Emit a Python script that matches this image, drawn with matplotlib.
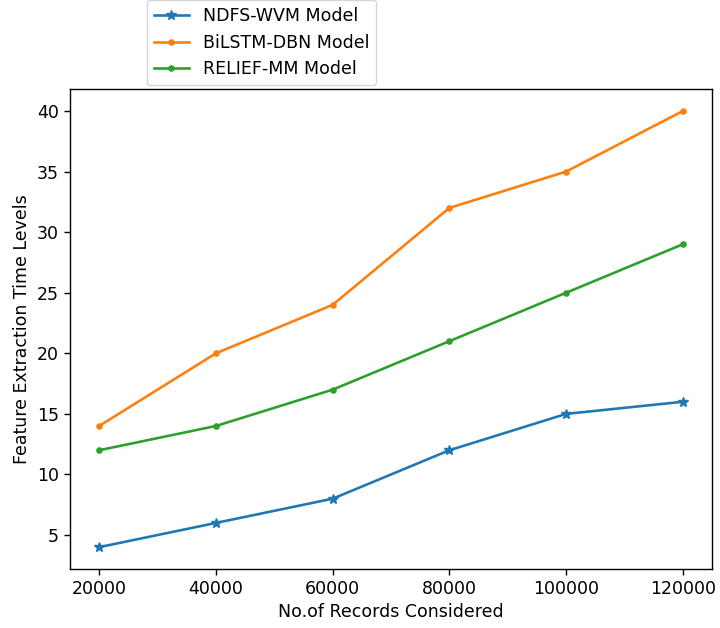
import numpy as np
import matplotlib
matplotlib.use('Agg')
import matplotlib.pyplot as plt

records = [20000, 40000, 60000, 80000, 100000, 120000]
ndfs_wvm = [4, 6, 8, 12, 15, 16]
bilstm_dbn = [14, 20, 24, 32, 35, 40]
relief_mm = [12, 14, 17, 21, 25, 29]

s = 1.25  # scale factor
plt.rcParams['font.size'] = 10 * s
plt.rcParams['lines.linewidth'] = 1.5 * s
plt.rcParams['lines.markersize'] = 6 * s
plt.rcParams['axes.linewidth'] = 0.8 * s
plt.rcParams['xtick.major.size'] = 3.5 * s
plt.rcParams['ytick.major.size'] = 3.5 * s
plt.rcParams['xtick.major.width'] = 0.8 * s
plt.rcParams['ytick.major.width'] = 0.8 * s

fig = plt.figure(figsize=(7.2, 6.28), dpi=100)
ax = fig.add_axes([0.0972, 0.094, 0.989 - 0.0972, 0.858 - 0.094])

ax.plot(records, ndfs_wvm, marker='*', label='NDFS-WVM Model')
ax.plot(records, bilstm_dbn, marker='.', label='BiLSTM-DBN Model')
ax.plot(records, relief_mm, marker='.', label='RELIEF-MM Model')

ax.set_xticks(records)
ax.set_xlabel('No.of Records Considered')
ax.set_ylabel('Feature Extraction Time Levels')

fig.legend(loc='upper left', bbox_to_anchor=(147 / 720, 1.0),
           bbox_transform=fig.transFigure, borderaxespad=0)

fig.savefig('out.png', dpi=100)
